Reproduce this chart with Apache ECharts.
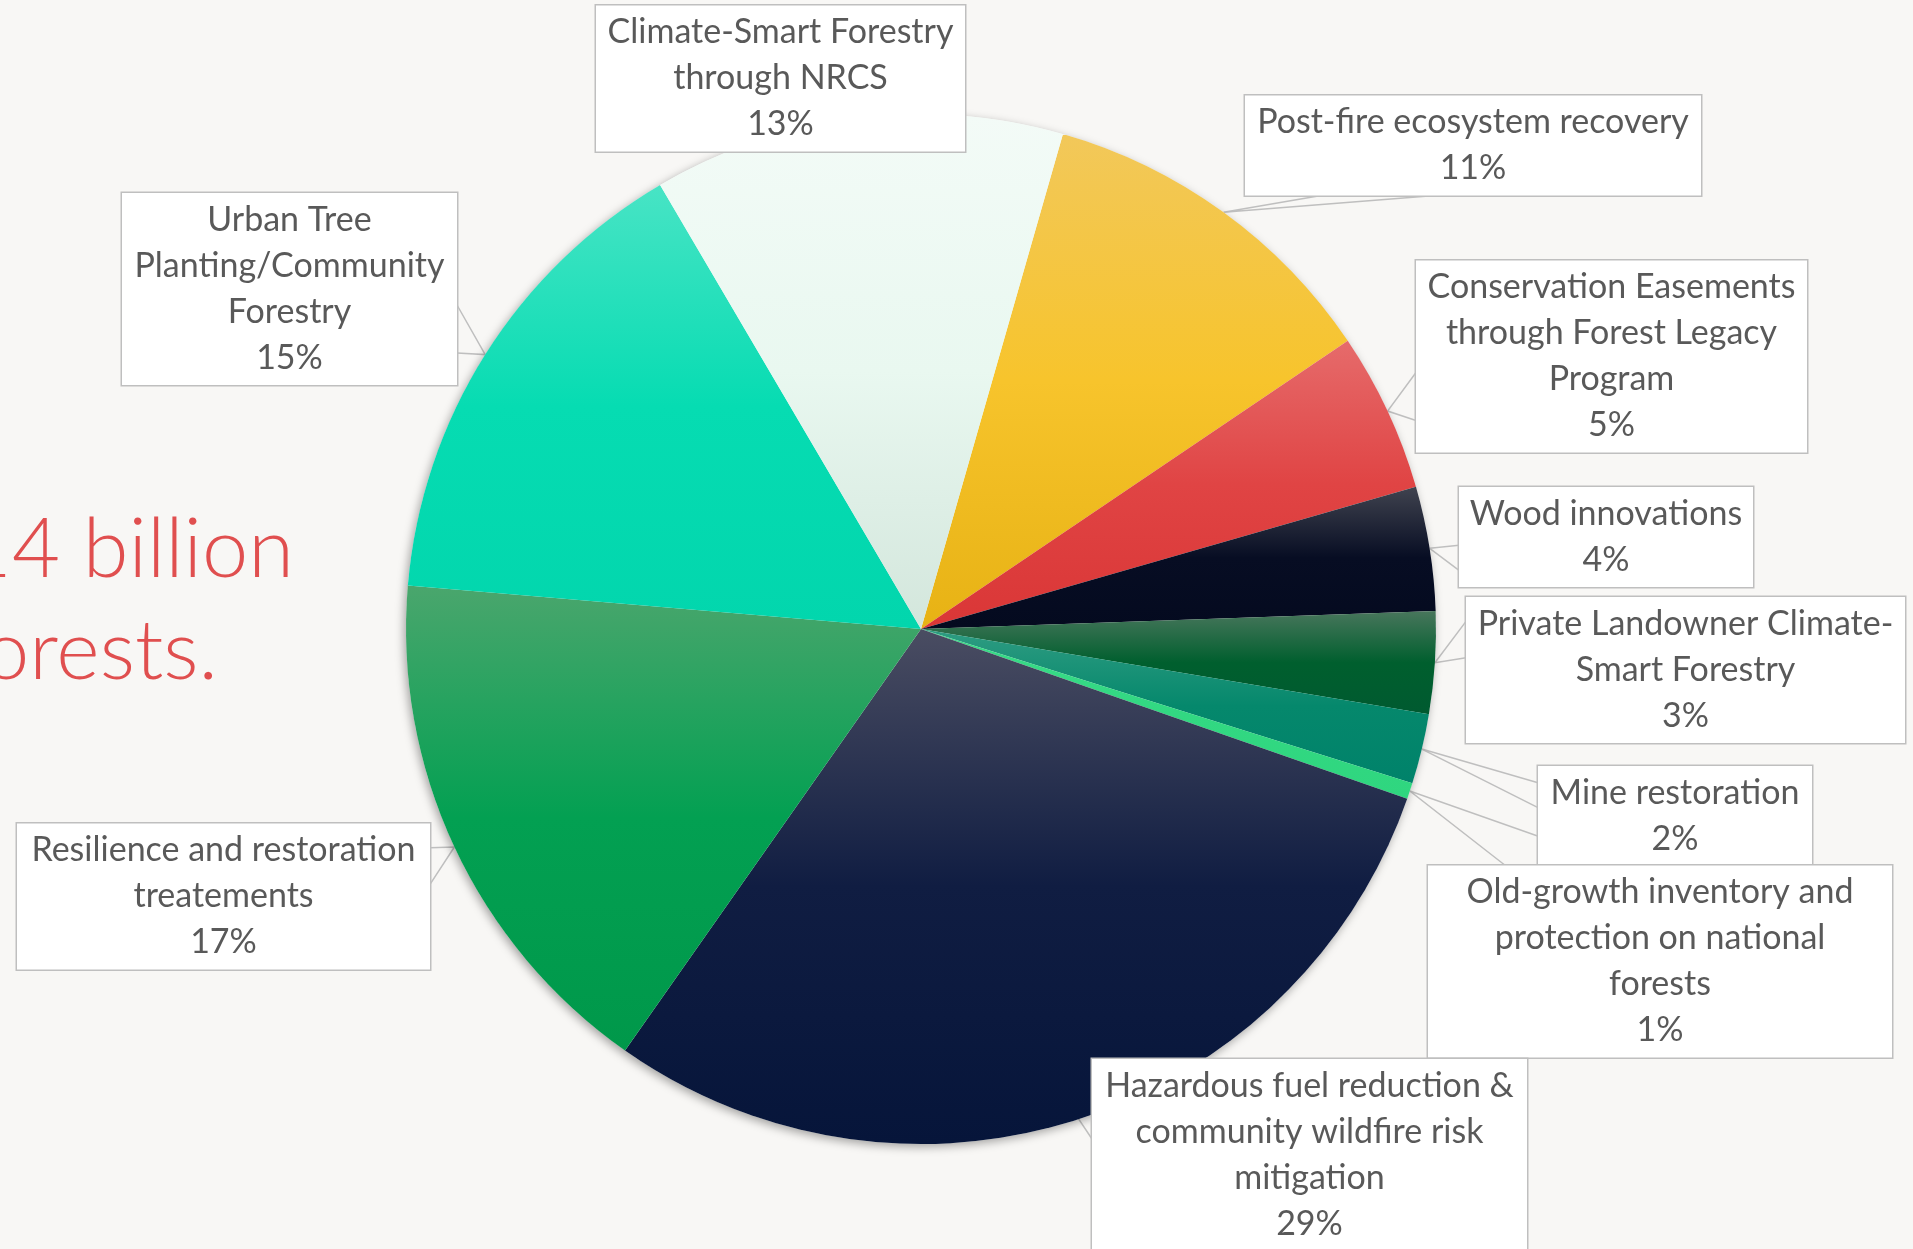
<!DOCTYPE html>
<html>
<head>
<meta charset="utf-8">
<script src="https://cdn.jsdelivr.net/npm/echarts@6/dist/echarts.min.js"></script>
<style>
html,body{margin:0;padding:0;background:#f8f7f5;overflow:hidden}
#chart{width:1913px;height:1249px}
</style>
</head>
<body>
<div id="chart"></div>
<script>
// ---- data ----
const categories = [
  'Post-fire ecosystem recovery',
  'Conservation Easements\nthrough Forest Legacy\nProgram',
  'Wood innovations',
  'Private Landowner Climate-\nSmart Forestry',
  'Mine restoration',
  'Old-growth inventory and\nprotection on national\nforests',
  'Hazardous fuel reduction &\ncommunity wildfire risk\nmitigation',
  'Resilience and restoration\ntreatements',
  'Urban Tree\nPlanting/Community\nForestry',
  'Climate-Smart Forestry\nthrough NRCS'
];
const shares = [11.1, 5.0, 3.9, 3.2, 2.2, 0.5, 29.4, 16.6, 15.2, 12.9];
const titleLines = ['$14 billion', 'forests.'];

// ---- styles ----
const sliceColors = [
  ['#f2c85a', '#f7c42c', '#e7b214'],
  ['#e66b6b', '#e04444', '#da3636'],
  ['#40434f', '#070d23', '#040a1f'],
  ['#48765c', '#005f2e', '#005a30'],
  ['#2f9c82', '#05886c', '#00826a'],
  ['#3adb88', '#32d882', '#2fd67f'],
  ['#4a4d62', '#101d42', '#06153a'],
  ['#4aa66d', '#03a052', '#00984a'],
  ['#48e4c5', '#06dcb2', '#02d6ad'],
  ['#f3fbf7', '#e9f8f0', '#d3e6dc']
];
// label boxes: centre x, centre y, width, wedge side, wedge far(1)/near(0)
const labelBoxes = [
  [1473, 145.5, 456, 'bottom', 0],
  [1611.5, 356.5, 391, 'left', 1],
  [1606, 537, 294, 'left', 1],
  [1685.5, 670, 439, 'left', 0],
  [1675, 816, 274, 'left', 0],
  [1660, 961.5, 464, 'top', 0],
  [1309.5, 1155, 435, 'left', 0],
  [223.5, 896.5, 413, 'right', 0],
  [289.5, 289, 335, 'right', 1],
  [780.5, 78.5, 369, 'none', 0]
];
const LINE_H = 46, PAD_V = 4, TEXT_SHIFT = 4;
const titlePos = [[294, 550], [218, 652]];

const chart = echarts.init(document.getElementById('chart'), null, {renderer: 'canvas'});

const total = shares.reduce((a, b) => a + b, 0);

const data = categories.map((name, i) => ({
  name: name,
  value: shares[i],
  itemStyle: {
    color: {
      type: 'linear', x: 0, y: 0, x2: 0, y2: 1,
      colorStops: [
        {offset: 0, color: sliceColors[i][0]},
        {offset: 0.5, color: sliceColors[i][1]},
        {offset: 1, color: sliceColors[i][2]}
      ]
    }
  },
  label: {width: labelBoxes[i][2]},
  labelLine: {show: labelBoxes[i][3] !== 'none'}
}));

const CX = 921, CY = 629, R = 515;

chart.setOption({
  backgroundColor: '#f8f7f5',
  animation: false,
  graphic: titleLines.map((t, i) => ({
    type: 'text',
    x: titlePos[i][0],
    y: titlePos[i][1],
    silent: true,
    style: {
      text: t,
      align: 'right',
      verticalAlign: 'middle',
      fill: '#e04f4f',
      font: '300 83px Lato'
    }
  })),
  series: [
    {
      type: 'pie',
      silent: true,
      center: [CX, CY],
      radius: R,
      label: {show: false},
      labelLine: {show: false},
      itemStyle: {
        color: '#f8f7f5',
        shadowBlur: 10,
        shadowOffsetX: -2,
        shadowOffsetY: 3,
        shadowColor: 'rgba(0,0,0,0.35)'
      },
      data: [{value: total, name: 'total'}]
    },
    {
      type: 'pie',
      center: [CX, CY],
      radius: R,
      startAngle: 74,
      clockwise: true,
      avoidLabelOverlap: false,
      percentPrecision: 0,
      emphasis: {disabled: true},
      itemStyle: {borderWidth: 0},
      label: {
        show: true,
        position: 'outside',
        formatter: '{b}\n{d}%',
        color: '#595959',
        fontFamily: 'Lato',
        fontSize: 34,
        lineHeight: LINE_H,
        align: 'center',
        backgroundColor: '#ffffff',
        borderColor: '#bfbfbf',
        borderWidth: 1.5,
        padding: [PAD_V + TEXT_SHIFT, 0, PAD_V - TEXT_SHIFT, 0]
      },
      labelLine: {
        show: true,
        length: 20,
        length2: 20,
        lineStyle: {color: '#bfbfbf', width: 1.5}
      },
      labelLayout: function (p) {
        const b = labelBoxes[p.dataIndex];
        const cx = b[0], cy = b[1], w = b[2], side = b[3], far = b[4];
        const lines = (categories[p.dataIndex].split('\n').length + 1);
        const h = lines * LINE_H + 2 * PAD_V;
        const res = {x: cx, y: cy, align: 'center', verticalAlign: 'middle'};
        if (side === 'none' || !p.labelLinePoints) return res;
        const tip = p.labelLinePoints[0];
        const l = cx - w / 2, r = cx + w / 2, t = cy - h / 2, bt = cy + h / 2;
        const f1 = far ? 7 / 12 : 1 / 6, f2 = far ? 5 / 6 : 5 / 12;
        let A, B;
        if (side === 'left') { A = [l, t + f1 * h]; B = [l, t + f2 * h]; }
        else if (side === 'right') { A = [r, t + f1 * h]; B = [r, t + f2 * h]; }
        else if (side === 'top') { A = [l + f1 * w, t]; B = [l + f2 * w, t]; }
        else { A = [l + f1 * w, bt]; B = [l + f2 * w, bt]; }
        res.labelLinePoints = [A, [tip[0], tip[1]], B];
        return res;
      },
      data: data
    }
  ]
});
</script>
</body>
</html>
